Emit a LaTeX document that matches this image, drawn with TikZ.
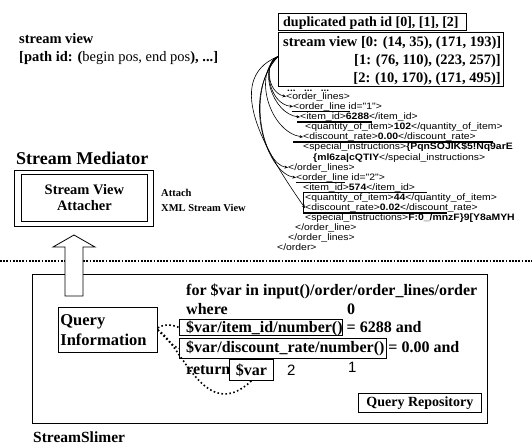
\documentclass[tikz,border=0pt]{standalone}
\usepackage{fontspec}
\setmainfont{Liberation Serif}
\newfontfamily\xmlfont[FakeStretch=1.12]{Liberation Sans}
\newfontfamily\digitfont{Liberation Sans}
\usetikzlibrary{arrows.meta}

\begin{document}
\begin{tikzpicture}[x=1pt,y=-1pt,
  txt/.style={inner sep=0pt, anchor=base west, font=\bfseries\fontsize{14.5}{17}\selectfont},
  big/.style={inner sep=0pt, anchor=base west, font=\bfseries\fontsize{16}{20}\selectfont},
  small/.style={inner sep=0pt, anchor=base west, font=\bfseries\fontsize{10.5}{13}\selectfont},
  xml/.style={inner sep=0pt, anchor=base west, font=\xmlfont\fontsize{9.3}{10}\selectfont},
  digit/.style={inner sep=0pt, anchor=base west, font=\digitfont\fontsize{15}{17}\selectfont},
  frame/.style={draw, line width=0.8pt, inner sep=0pt, anchor=north west},
  hiline/.style={line width=1.4pt},
  link/.style={line width=0.6pt, -{Stealth[length=3.5pt,width=3pt]}},
  dotlink/.style={line width=1.6pt, dash pattern=on 1.6pt off 2.4pt},
  sepline/.style={line width=1.8pt, dash pattern=on 1.8pt off 1.4pt},
]
\useasboundingbox (0,0) rectangle (532,445);

% ---------- legend ----------
\node[txt] (lg1) at (19,43) {stream view};
\node[txt] (lg2) at (19,61) {[path id: (\mdseries begin pos, end pos\bfseries), ...]};

% ---------- stream view boxes ----------
\node[frame, minimum width=188pt, minimum height=17pt] (dup) at (278,13) {};
\node[txt, font=\bfseries\fontsize{14}{17}\selectfont] (duptxt) at (283,26) {duplicated path id [0], [1], [2]};
\node[frame, line width=1pt, minimum width=225pt, minimum height=54pt] (sv) at (278,32) {};
\node[txt] (sv0) at (283,46) {stream view [0: (14, 35), (171, 193)]};
\node[txt, anchor=base east] (sv1) at (501,64) {[1: (76, 110), (223, 257)]};
\node[txt, anchor=base east] (sv2) at (501,82) {[2: (10, 170), (171, 495)]};

% ---------- XML stream ----------
\node[xml, font=\xmlfont\bfseries\fontsize{9}{10}\selectfont] (x0) at (287,91) {...\ \ \ ...\ \ \ ...};
\node[xml] (x1) at (286,99) {<order\_lines>};
\node[xml] (x2) at (293,109) {<order\_line id="1">};
\node[xml] (x3) at (300,119.5) {<item\_id>\textbf{6288}</item\_id>};
\node[xml] (x4) at (305,129.5) {<quantity\_of\_item>\textbf{102}</quantity\_of\_item>};
\node[xml] (x5) at (303,139.5) {<discount\_rate>\textbf{0.00}</discount\_rate>};
\node[xml] (x6) at (303,149.5) {<special\_instructions>\textbf{\{PqnSOJIK\$5!Nq9arE}};
\node[xml] (x7) at (313,160) {\textbf{\{ml6za|cQTIY}</special\_instructions>};
\node[xml] (x8) at (288,170) {</order\_lines>};
\node[xml] (x9) at (296,180) {<order\_line id="2">};
\node[xml] (x10) at (303,190) {<item\_id>\textbf{574}</item\_id>};
\node[xml] (x11) at (305,200) {<quantity\_of\_item>\textbf{44}</quantity\_of\_item>};
\node[xml] (x12) at (305,210.5) {<discount\_rate>\textbf{0.02}</discount\_rate>};
\node[xml] (x13) at (305,220.5) {<special\_instructions>\textbf{F:0\_/mnzF\}9[Y8aMYH}};
\node[xml] (x14) at (295,230.5) {</order\_line>};
\node[xml] (x15) at (288,240.5) {</order\_lines>};
\node[xml] (x16) at (277,250.5) {</order>};

% ranges of the stream view
\draw[hiline] (292,111.5) -- (350,111.5);
\draw[hiline] (297,122) -- (372,122);
\draw[hiline] (293,142) -- (493,142);
\draw[hiline] (296,182.5) -- (345,182.5);
\draw[hiline] (303,192.5) -- (427,192.5);
\draw[hiline] (303,213) -- (447,213);
\draw[line width=0.8pt] (303,192.5) -- (303,213);

% position links from the stream view
\coordinate (svin) at ([yshift=3pt]sv.west);
\draw[link] (svin) .. controls (265,60) and (266,92) .. (x1.west);
\draw[link] (svin) .. controls (262,62) and (268,104) .. (x2.west);
\draw[link] (svin) .. controls (258,66) and (272,114) .. (x3.west);
\draw[link] (svin) .. controls (252,74) and (270,132) .. (x5.west);
\draw[link] (svin) .. controls (246,88) and (262,164) .. (x8.west);
\draw[link] (svin) .. controls (240,98) and (268,174) .. (x9.west);
\draw[link] (svin) .. controls (220,80) and (270,158) .. (x12.west);

% ---------- stream mediator ----------
\node[inner sep=0pt, anchor=base west, font=\bfseries\fontsize{18}{21}\selectfont] (medtitle) at (16,164) {Stream Mediator};
\node[frame, minimum width=139pt, minimum height=56pt] (med) at (14,170) {};
\node[frame, minimum width=126pt, minimum height=47pt, align=center,
      font=\bfseries\fontsize{14.5}{16}\selectfont] (att) at (21,174) {Stream View\\Attacher};
\node[small] (atta) at (161,196) {Attach};
\node[small] (attb) at (161,211) {XML Stream View};

% ---------- separator ----------
\draw[sepline] (0,261) -- (532,261);

% ---------- stream slimer ----------
\node[frame, minimum width=455pt, minimum height=149pt] (slim) at (32,274) {};
\node[inner sep=0pt, anchor=base west, font=\bfseries\fontsize{15.5}{18}\selectfont] (slimtitle) at (33,442) {StreamSlimer};

% upward block arrow into the mediator
\draw[line width=0.8pt, fill=white] (65,296) -- (65,247) -- (53,247) -- (74,235)
  -- (95,247) -- (83,247) -- (83,296) -- cycle;

\node[frame, minimum width=98pt, minimum height=45pt, text width=95pt, inner sep=2pt, align=left,
      font=\bfseries\fontsize{16.5}{20}\selectfont] (qi) at (58,307) {Query\\Information};

\node[big] (q1) at (186,295) {for \$var in input()/order/order\_lines/order};
\node[big] (q2) at (186,314) {where};
\node[big] (n0) at (347,314) {0};
\node[big] (q3) at (186,332) {\$var/item\_id/number() = 6288 and};
\node[big] (q4) at (186,352) {\$var/discount\_rate/number() = 0.00 and};
\node[big] (q5) at (186,374) {return};
\node[digit] (n1) at (348,372) {1};
\node[digit] (n2) at (287,375) {2};

\node[frame, minimum width=163pt, minimum height=16pt] (qa) at (179,319) {};
\node[frame, minimum width=207pt, minimum height=20pt] (qb) at (179,338) {};
\node[frame, minimum width=44pt, minimum height=21pt,
      font=\bfseries\fontsize{16}{20}\selectfont] (qc) at (229,359) {\$var};

\node[frame, minimum width=123pt, minimum height=19pt,
      font=\bfseries\fontsize{14}{17}\selectfont] (repo) at (358,393) {Query Repository};

% query information links
\draw[dotlink] ([yshift=2pt]qi.east) .. controls (166,323) and (172,325) .. (qa.west);
\draw[dotlink] (qi.east) .. controls (166,338) and (172,346) .. (qb.west);
\draw[dotlink] (qi.east) .. controls (182,345) and (205,425) .. (qc.south);

\end{tikzpicture}
\end{document}
